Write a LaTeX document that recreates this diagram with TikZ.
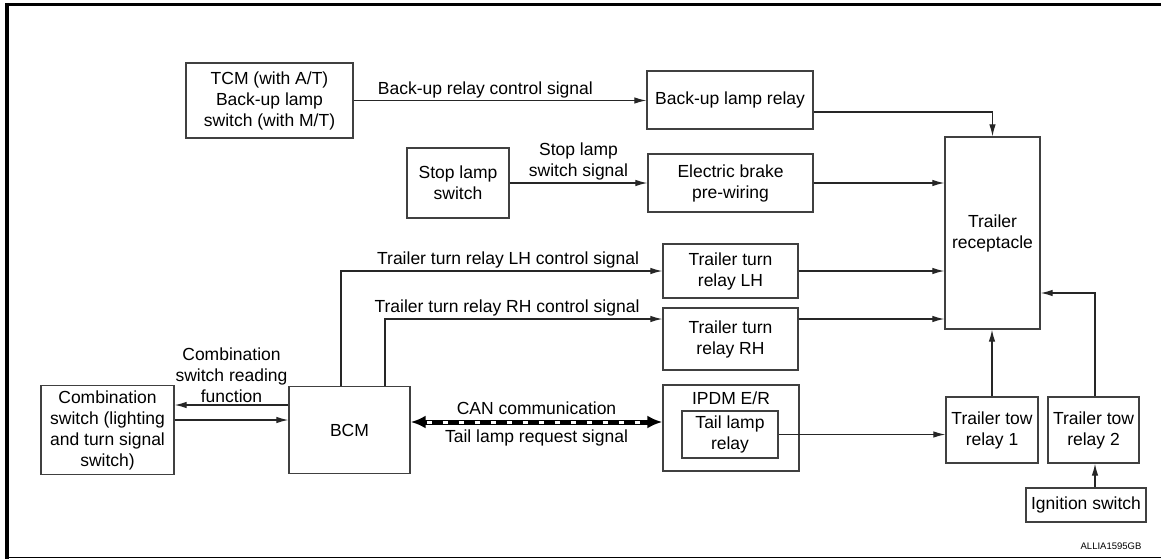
\documentclass[tikz,border=0pt]{standalone}
\usepackage{fontspec}
\setmainfont{Liberation Sans}
\usetikzlibrary{arrows.meta,positioning}
\tikzset{>=Latex}

\begin{document}
\begin{tikzpicture}[x=1pt, y=-1pt,
                every node/.append style={align=center, font=\fontsize{17.5}{21}\selectfont},
                blk/.style={draw=black!75, line width=1.3pt, inner sep=2pt},
                con/.style={draw=black!85, line width=1.2pt},
                arr/.style={con, -{Latex[length=12pt,width=6.5pt]}},
                lbl/.style={inner sep=2pt}]
    \useasboundingbox (0,0) rectangle (1161,559);
    % frame
    \draw[line width=3.5pt] (1161,4.7) -- (7,4.7) -- (7,559);
    \draw[line width=1pt] (7,557.5) -- (1161,557.5);

    % boxes
    \node [blk, minimum width=167pt, minimum height=75pt] (tcm) at (269.5,100.5) {TCM (with A/T)\\Back-up lamp\\switch (with M/T)};
    \node [blk, minimum width=166pt, minimum height=58pt] (bulr) at (730,100) {Back-up lamp relay};
    \node [blk, minimum width=102pt, minimum height=70pt] (stop) at (458,183) {Stop lamp\\switch};
    \node [blk, minimum width=165pt, minimum height=58pt] (ebpw) at (730.5,183) {Electric brake\\pre-wiring};
    \node [blk, minimum width=95pt, minimum height=192pt] (rcpt) at (992.5,233) {Trailer\\receptacle};
    \node [blk, minimum width=135pt, minimum height=54pt] (ttlh) at (730.5,271) {Trailer turn\\relay LH};
    \node [blk, minimum width=135pt, minimum height=62pt] (ttrh) at (730.5,339) {Trailer turn\\relay RH};
    \node [blk, minimum width=121pt, minimum height=87pt] (bcm) at (349.5,430) {BCM};
    \node [blk, minimum width=133pt, minimum height=89pt] (comb) at (107.5,430) {Combination\\switch (lighting\\and turn signal\\switch)};
    \node [blk, minimum width=136pt, minimum height=86pt] (ipdm) at (731,428) {};
    \node [lbl, below=5pt of ipdm.north] (ipdmtxt) {IPDM E/R};
    \node [blk, minimum width=96pt, minimum height=47pt] (tlr) at (730,434.5) {Tail lamp\\relay};
    \node [blk, minimum width=92pt, minimum height=66pt] (tow1) at (992,430) {Trailer tow\\relay 1};
    \node [blk, minimum width=91pt, minimum height=66pt] (tow2) at (1093.5,430) {Trailer tow\\relay 2};
    \node [blk, minimum width=120pt, minimum height=34pt] (ign) at (1086,505) {Ignition switch};
    \node [font=\fontsize{9.5}{11}\selectfont] (code) at (1111,546) {ALLIA1595GB};

    % signals
    \draw[arr] (tcm.east) -- node[lbl, above, pos=0.45] {Back-up relay control signal} (tcm.east -| bulr.west);
    \draw[arr] (stop.east) -- node[lbl, above] {Stop lamp\\switch signal} (stop.east -| ebpw.west);
    \draw[arr] ([yshift=-12pt]bulr.east) -| (rcpt.north);
    \draw[arr] (ebpw.east) -- (ebpw.east -| rcpt.west);
    \draw[arr] ([xshift=-8.5pt]bcm.north) |- node[lbl, above, pos=0.76] {Trailer turn relay LH control signal} (ttlh.west);
    \draw[arr] ([xshift=35.5pt]bcm.north) |- node[lbl, above, pos=0.72] {Trailer turn relay RH control signal} ([yshift=20pt]ttrh.west);
    \draw[arr] (ttlh.east) -- (ttlh.east -| rcpt.west);
    \draw[arr] ([yshift=20pt]ttrh.east) -- ([yshift=20pt]ttrh.east -| rcpt.west);
    \draw[arr] ([yshift=25pt]bcm.west) -- node[lbl, above] {Combination\\switch reading\\function} ([yshift=25pt]comb.east);
    \draw[arr] ([yshift=10pt]comb.east) -- ([yshift=10pt]bcm.west);
    % CAN line
    \draw[line width=5pt, {Latex[length=15pt,width=13pt]}-{Latex[length=15pt,width=13pt]}] ([yshift=8pt]bcm.east) -- node[lbl, above=3pt] {CAN communication} node[lbl, below=3pt] {Tail lamp request signal} ([yshift=8pt]bcm.east -| ipdm.west);
    \draw[white, line width=3pt, dash pattern=on 5pt off 11pt, shorten <=16pt, shorten >=15pt] ([yshift=8pt]bcm.east) -- ([yshift=8pt]bcm.east -| ipdm.west);
    \draw[arr] (tlr.east) -- (tlr.east -| tow1.west);
    \draw[arr] (tow1.north) -- (tow1.north |- rcpt.south);
    \draw[arr] ([xshift=1.5pt]tow2.north) |- ([yshift=-60pt]rcpt.east);
    \draw[arr] ([xshift=1.5pt]tow2.south |- ign.north) -- ([xshift=1.5pt]tow2.south);
\end{tikzpicture}
\end{document}
